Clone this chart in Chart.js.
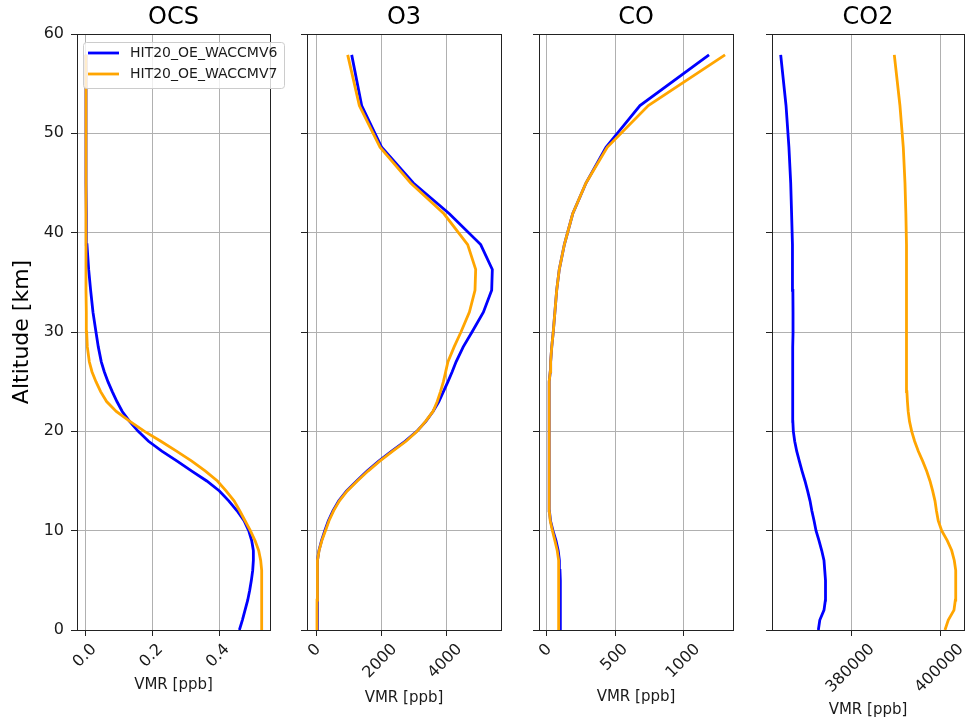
<!DOCTYPE html>
<html>
<head>
<meta charset="utf-8">
<script src="https://cdn.jsdelivr.net/npm/chart.js@4.4.1/dist/chart.umd.min.js"></script>
<style>
  body { margin: 0; background: #fff; }
  #wrap { position: relative; width: 967px; height: 723px; overflow: hidden; }
  .panel { position: absolute; top: 0; height: 723px; }
</style>
</head>
<body>
<div id="wrap">
  <div class="panel" style="left:0px;width:290px"><canvas id="ocsChart"></canvas></div>
  <div class="panel" style="left:297px;width:215px"><canvas id="o3Chart"></canvas></div>
  <div class="panel" style="left:529px;width:215px"><canvas id="coChart"></canvas></div>
  <div class="panel" style="left:762px;width:205px"><canvas id="co2Chart"></canvas></div>
</div>
<script>
// altitude levels (km) shared by all profiles
const altitude = [0, 1, 2, 3, 4, 5, 6, 7, 8, 9, 10, 11, 12, 13, 14, 15, 16, 17, 18, 19, 20,
  21, 22, 23, 24, 25, 26, 27, 28.5, 30, 32, 34.2, 36.3, 38.8, 41.9, 45.0, 48.6, 52.8, 57.9];

// VMR profiles [ppb], V6 and V7 a priori
const ocsV6 = [0.461, 0.470, 0.478, 0.486, 0.492, 0.497, 0.501, 0.503, 0.503, 0.498, 0.489,
  0.475, 0.454, 0.429, 0.401, 0.363, 0.318, 0.274, 0.228, 0.188, 0.157, 0.131, 0.109, 0.093,
  0.079, 0.066, 0.055, 0.046, 0.037, 0.030, 0.021, 0.014, 0.008, 0.003, 0.001, 0, 0, 0, 0];
const ocsV7 = [0.528, 0.528, 0.528, 0.528, 0.528, 0.528, 0.528, 0.525, 0.519, 0.508, 0.494,
  0.478, 0.462, 0.445, 0.421, 0.395, 0.359, 0.318, 0.272, 0.225, 0.176, 0.132, 0.091, 0.062,
  0.044, 0.030, 0.018, 0.010, 0.004, 0.002, 0.001, 0, 0, 0, 0, 0, 0, 0, 0];

const o3V6 = [40, 40, 40, 40, 42, 45, 50, 60, 90, 170, 270, 380, 520, 700, 940, 1250, 1570,
  1930, 2330, 2740, 3100, 3380, 3600, 3780, 3920, 4060, 4190, 4310, 4530, 4800, 5150, 5405,
  5425, 5067, 4103, 2995, 2020, 1405, 1098];
const o3V7 = [30, 30, 30, 32, 35, 38, 45, 60, 95, 180, 290, 400, 540, 720, 960, 1270, 1600,
  1960, 2360, 2770, 3110, 3370, 3600, 3730, 3830, 3920, 3990, 4060, 4250, 4460, 4720, 4892,
  4913, 4667, 3938, 2913, 1970, 1333, 975];

const coV6 = [98, 98, 98, 98, 98, 97, 95, 91, 82, 66, 44, 26, 18, 16, 15, 15, 15, 15, 15, 15,
  15, 16, 17, 18, 20, 22, 24, 27, 35, 46, 58, 71, 90, 127, 188, 285, 431, 679, 1183];
const coV7 = [82, 84, 85, 86, 87, 87, 86, 83, 75, 58, 40, 24, 17, 16, 15, 15, 15, 15, 15, 15,
  15, 16, 17, 18, 20, 22, 24, 27, 35, 46, 58, 71, 90, 127, 188, 285, 440, 740, 1300];

const co2V6 = [372660, 372990, 373930, 374240, 374300, 374240, 374100, 373930, 373420, 372810,
  372140, 371700, 371200, 370790, 370250, 369660, 369000, 368390, 367800, 367350, 367040,
  366930, 366880, 366860, 366870, 366890, 366910, 366930, 366960, 366980, 366970, 366940,
  366890, 366800, 366650, 366450, 366050, 365400, 364200];
const co2V7 = [401120, 401860, 403140, 403440, 403560, 403590, 403450, 403210, 402630, 401640,
  400380, 399600, 399200, 398870, 398350, 397750, 397000, 396110, 395130, 394300, 393640,
  393150, 392850, 392680, 392560, 392490, 392450, 392430, 392440, 392470, 392490, 392500,
  392490, 392460, 392330, 392130, 391750, 391000, 389730];

// ticks
const altTicks = [0, 10, 20, 30, 40, 50, 60];
const altTickLabels = ["0", "10", "20", "30", "40", "50", "60"];
const ocsTicks = [0, 0.2, 0.4];
const ocsTickLabels = ["0.0", "0.2", "0.4"];
const o3Ticks = [0, 2000, 4000];
const o3TickLabels = ["0", "2000", "4000"];
const coTicks = [0, 500, 1000];
const coTickLabels = ["0", "500", "1000"];
const co2Ticks = [380000, 400000];
const co2TickLabels = ["380000", "400000"];

const seriesNames = ["HIT20_OE_WACCMV6", "HIT20_OE_WACCMV7"];
const seriesColors = ["#0000ff", "#ffa500"];

Chart.defaults.font.family = "'DejaVu Sans', sans-serif";
Chart.defaults.color = "#1a1a1a";

function profile(values) {
  return altitude.map((a, i) => ({ x: values[i], y: a }));
}

// box around the plot area (all four spines)
const framePlugin = {
  id: "frame",
  afterDatasetsDraw(chart) {
    const a = chart.chartArea;
    const c = chart.ctx;
    c.save();
    c.strokeStyle = "#222";
    c.lineWidth = 1;
    c.strokeRect(Math.round(a.left) + 0.5, Math.round(a.top) + 0.5,
      Math.round(a.right - a.left), Math.round(a.bottom - a.top));
    c.restore();
  }
};

// centre the slanted x tick labels under their ticks
const tiltPlugin = {
  id: "tilt",
  beforeDraw(chart) {
    const sc = chart.scales.x;
    const c = chart.ctx;
    sc.getLabelItems().forEach((item) => {
      if (item.shifted) return;
      c.font = item.font.string;
      const w = c.measureText(item.label).width;
      item.options.translation[0] += 0.37 * w - 1.5;
      item.shifted = true;
    });
  }
};

// legend drawn inside the first panel
const legendBoxPlugin = {
  id: "legendBox",
  afterDraw(chart) {
    const a = chart.chartArea;
    const c = chart.ctx;
    c.save();
    c.beginPath();
    c.roundRect(a.left + 6.5, a.top + 8.5, 201, 46, 3);
    c.fillStyle = "rgba(255,255,255,0.8)";
    c.fill();
    c.strokeStyle = "#cccccc";
    c.lineWidth = 1;
    c.stroke();
    chart.data.datasets.forEach((ds, i) => {
      const y = a.top + 19 + i * 21;
      c.beginPath();
      c.moveTo(a.left + 11, y);
      c.lineTo(a.left + 42, y);
      c.strokeStyle = ds.borderColor;
      c.lineWidth = 2.8;
      c.stroke();
      c.fillStyle = "#1a1a1a";
      c.font = "14px 'DejaVu Sans', sans-serif";
      c.textBaseline = "middle";
      c.fillText(ds.label, a.left + 53, y);
    });
    c.restore();
  }
};

function makePanel(id, p) {
  const plugins = [framePlugin, tiltPlugin];
  if (p.legend) plugins.push(legendBoxPlugin);
  const ctx = document.getElementById(id).getContext("2d");
  return new Chart(ctx, {
    type: "line",
    data: {
      datasets: [p.v6, p.v7].map((vals, i) => ({
        label: seriesNames[i],
        data: profile(vals),
        borderColor: seriesColors[i],
        backgroundColor: seriesColors[i],
        borderWidth: 2.8,
        pointRadius: 0,
        tension: 0,
        fill: false,
        order: 1 - i, // V7 drawn over V6
      })),
    },
    plugins: plugins,
    options: {
      responsive: true,
      maintainAspectRatio: false,
      animation: false,
      events: [],
      layout: { padding: { left: 0, right: p.padRight, top: 0, bottom: 0 } },
      plugins: {
        legend: { display: false },
        tooltip: { enabled: false },
        title: {
          display: true,
          text: p.title,
          fullSize: false,
          color: "#000",
          font: { size: 24, weight: "normal" },
          padding: { top: 3, bottom: 2.2 },
        },
      },
      scales: {
        x: {
          type: "linear",
          min: p.min,
          max: p.max,
          afterBuildTicks: (s) => { s.ticks = p.ticks.map((v) => ({ value: v })); },
          afterFit: (s) => { s.height = 93; },
          ticks: {
            callback: (v, i) => p.tickLabels[i],
            font: { size: 16 },
            minRotation: 45,
            maxRotation: 45,
            padding: 4,
          },
          grid: { color: "#b0b0b0", lineWidth: 1, drawTicks: true, tickLength: 6, tickColor: "#222" },
          border: { display: false },
          title: {
            display: true,
            text: "VMR [ppb]",
            font: { size: 15 },
            padding: { top: 0, bottom: p.labelPad },
          },
        },
        y: {
          type: "linear",
          min: 0,
          max: 60,
          afterBuildTicks: (s) => { s.ticks = altTicks.map((v) => ({ value: v })); },
          afterFit: (s) => { s.width = p.yWidth; },
          ticks: {
            display: p.showY,
            callback: (v, i) => altTickLabels[i],
            font: { size: 16 },
            padding: 7,
          },
          grid: { color: "#b0b0b0", lineWidth: 1, drawTicks: true, tickLength: 6, tickColor: "#222" },
          border: { display: false },
          title: {
            display: p.showY,
            text: "Altitude [km]",
            color: "#000",
            font: { size: 22 },
            padding: { top: 9, bottom: 0 },
          },
        },
      },
    },
  });
}

makePanel("ocsChart", { title: "OCS", v6: ocsV6, v7: ocsV7, min: -0.027, max: 0.553,
  ticks: ocsTicks, tickLabels: ocsTickLabels, showY: true, yWidth: 77, padRight: 20, labelPad: 29, legend: true });
makePanel("o3Chart", { title: "O3", v6: o3V6, v7: o3V7, min: -277, max: 5692,
  ticks: o3Ticks, tickLabels: o3TickLabels, showY: false, yWidth: 10, padRight: 11, labelPad: 16 });
makePanel("coChart", { title: "CO", v6: coV6, v7: coV7, min: -58, max: 1358,
  ticks: coTicks, tickLabels: coTickLabels, showY: false, yWidth: 10, padRight: 11, labelPad: 17 });
makePanel("co2Chart", { title: "CO2", v6: co2V6, v7: co2V7, min: 362247, max: 405393,
  ticks: co2Ticks, tickLabels: co2TickLabels, showY: false, yWidth: 10, padRight: 3, labelPad: 4 });
</script>
</body>
</html>
